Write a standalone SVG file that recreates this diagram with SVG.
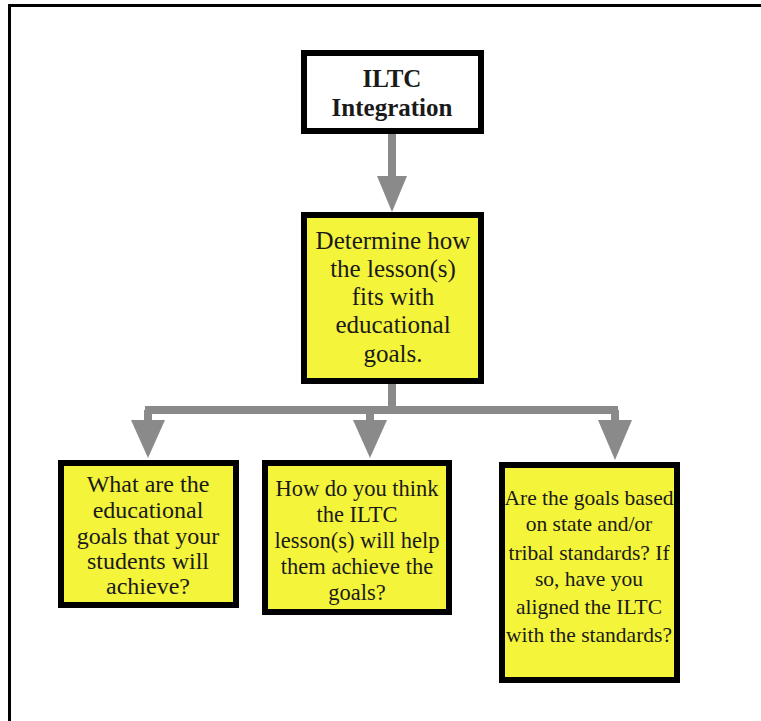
<svg xmlns="http://www.w3.org/2000/svg" width="761" height="721" viewBox="0 0 761 721">
<defs>
<style>
.box{stroke:#000;stroke-width:6;}
.y{fill:#f4f43a;}
.w{fill:#fff;}
.t{font-family:"Liberation Serif","Times New Roman",serif;font-size:24px;fill:#1a1a1a;text-anchor:middle;}
.b{font-weight:bold;font-size:25px;}
.m{font-size:25px;}
.c{font-size:22.5px;}
.r{font-size:21.5px;}
.ln{stroke:#8a8a8a;stroke-width:8;fill:none;}
.ah{fill:#8a8a8a;}
</style>
</defs>
<rect width="761" height="721" fill="#fff"/>
<path d="M9.5 721 V5.5 H761" fill="none" stroke="#000" stroke-width="3"/>
<g id="connectors">
<line class="ln" x1="392" y1="133" x2="392" y2="180"/>
<polygon class="ah" points="377,176 407,176 392,212"/>
<line class="ln" x1="392" y1="384" x2="392" y2="412"/>
<line class="ln" x1="145" y1="410" x2="618" y2="410"/>
<line class="ln" x1="148" y1="410" x2="148" y2="424"/>
<line class="ln" x1="370" y1="410" x2="370" y2="424"/>
<line class="ln" x1="615" y1="410" x2="615" y2="424"/>
<polygon class="ah" points="131,420 165,420 148,458"/>
<polygon class="ah" points="353,420 387,420 370,458"/>
<polygon class="ah" points="598,420 632,420 615,460"/>
</g>
<g id="n_top">
<rect class="box w" x="304" y="53" width="177" height="78"/>
<text class="t b" x="392" y="87">ILTC</text>
<text class="t b" x="392" y="116">Integration</text>
</g>
<g id="n_mid">
<rect class="box y" x="304" y="215" width="177" height="166"/>
<text class="t m" x="393" y="249">Determine how</text>
<text class="t m" x="393" y="277">the lesson(s)</text>
<text class="t m" x="393" y="305">fits with</text>
<text class="t m" x="393" y="333">educational</text>
<text class="t m" x="393" y="362">goals.</text>
</g>
<g id="n_left">
<rect class="box y" x="61" y="463" width="175" height="142"/>
<text class="t" x="148" y="492">What are the</text>
<text class="t" x="148" y="518">educational</text>
<text class="t" x="148" y="544">goals that your</text>
<text class="t" x="148" y="569">students will</text>
<text class="t" x="148" y="594">achieve?</text>
</g>
<g id="n_center">
<rect class="box y" x="265" y="463" width="184" height="149"/>
<text class="t c" x="357" y="496">How do you think</text>
<text class="t c" x="357" y="522">the ILTC</text>
<text class="t c" x="357" y="548">lesson(s) will help</text>
<text class="t c" x="357" y="574">them achieve the</text>
<text class="t c" x="357" y="600">goals?</text>
</g>
<g id="n_right">
<rect class="box y" x="502" y="465" width="175" height="215"/>
<text class="t r" x="589" y="505">Are the goals based</text>
<text class="t r" x="589" y="531">on state and/or</text>
<text class="t r" x="589" y="560">tribal standards? If</text>
<text class="t r" x="589" y="586">so, have you</text>
<text class="t r" x="589" y="614">aligned the ILTC</text>
<text class="t r" x="589" y="642">with the standards?</text>
</g>
</svg>
